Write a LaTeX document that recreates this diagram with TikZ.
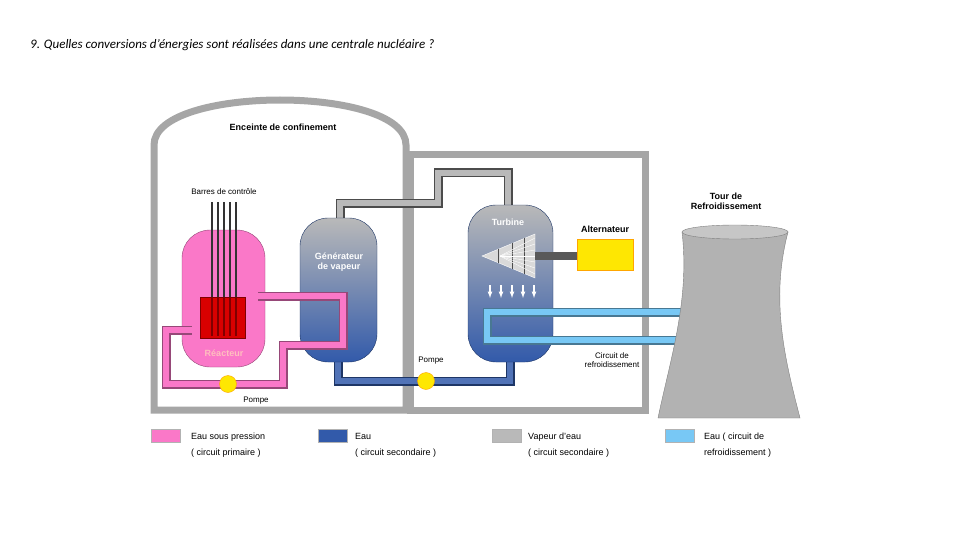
\documentclass[tikz,border=0pt]{standalone}
\usepackage{fontspec}
\setmainfont{Liberation Sans}
\newfontfamily\titlefont{Carlito}
\begin{document}
\begin{tikzpicture}[x=1pt,y=-1pt,
  lbl/.style={font=\fontsize{8}{9}\selectfont,inner sep=0pt},
  blbl/.style={font=\fontsize{9}{10}\selectfont\bfseries,inner sep=0pt,align=center},
  wlbl/.style={font=\fontsize{9}{10}\selectfont\bfseries,text=white,inner sep=0pt,align=center},
  wall/.style={draw=gray!70,line width=7pt},
  pipe/.style={line width=9pt,draw=#1!60!black},
  pipein/.style={line width=6pt,draw=#1},
  pump/.style={circle,fill=yellow!90!orange,draw=orange!70!yellow,minimum size=17pt,inner sep=0pt},
  swatch/.style={minimum width=29pt,minimum height=13pt,draw=gray!60,inner sep=0pt}]
\definecolor{pinkw}{RGB}{250,120,200}
\definecolor{bluew}{RGB}{50,90,170}
\definecolor{grayv}{RGB}{185,185,185}
\definecolor{lightb}{RGB}{120,200,245}
\useasboundingbox (0,0) rectangle (960,540);
% title
\node[anchor=west,inner sep=0pt,font=\titlefont\itshape\fontsize{13}{15}\selectfont] (title) at (30,45)
  {9. Quelles conversions d’énergies sont réalisées dans une centrale nucléaire ?};
% buildings
\draw[wall] (410,155) rectangle (645,410);
\draw[wall,fill=white] (154,410) -- (154,145) .. controls (154,85) and (406,85) .. (406,145) -- (406,410) -- cycle;
\draw[wall] (410,155) -- (645,155) -- (645,410) -- (410,410);
\node[blbl] (encl) at (283,127) {Enceinte de confinement};
% steam pipe
\draw[pipe=gray,line join=miter] (340,222) -- (340,203) -- (438,203) -- (438,173) -- (508,173) -- (508,208);
\draw[pipein=grayv,line join=miter] (340,222) -- (340,203) -- (438,203) -- (438,173) -- (508,173) -- (508,208);
% secondary water loop
\draw[pipe=bluew,line join=miter] (338,355) -- (338,381) -- (510,381) -- (510,355);
\draw[pipein=bluew!85!white,line join=miter] (338,355) -- (338,381) -- (510,381) -- (510,355);
% vessels
\shade[top color=grayv,bottom color=bluew,draw=bluew!60!black,rounded corners=28pt] (300,218) rectangle (377,362);
\shade[top color=grayv,bottom color=bluew,draw=bluew!60!black,rounded corners=28pt] (468,205) rectangle (553,362);
\node[wlbl] (sg) at (339,262) {Générateur\\de vapeur};
\node[wlbl] (turb) at (508,222) {Turbine};
\draw[fill=pinkw,draw=pinkw!60!black,rounded corners=28pt] (182,230) rectangle (265,367);
% rods
\foreach \x in {212,218,224,230,236}
  \draw[gray!40!black,line width=1.5pt] (\x,202) -- (\x,298);
\node[lbl] (rods) at (224,192) {Barres de contrôle};
\node[fill=red!85!black,draw=red!50!black,minimum width=45pt,minimum height=41pt,inner sep=0pt] (core) at (223,318) {};
\foreach \x in {212,218,224,230,236}
  \draw[red!50!black,line width=1.3pt] (\x,298) -- (\x,336);
\node[wlbl,text=pink] (reac) at (224,353) {Réacteur};
% primary loop
\draw[pipe=pinkw,line join=miter] (258,296) -- (343,296) -- (343,345) -- (283,345) -- (283,384) -- (166,384) -- (166,330) -- (192,330);
\draw[pipein=pinkw,line join=miter] (258,296) -- (343,296) -- (343,345) -- (283,345) -- (283,384) -- (166,384) -- (166,330) -- (192,330);
\node[pump] (p1) at (228,384) {};
\node[lbl] (p1l) at (256,401) {Pompe};
\node[pump] (p2) at (426,381) {};
\node[lbl] (p2l) at (431,361) {Pompe};
% turbine blades
\draw[white,fill=gray!30] (482,256) -- (535,234) -- (535,278) -- cycle;
\foreach \x in {498,512,524} \draw[gray!60!black] ({\x},{256-(\x-482)*0.42}) -- ({\x},{256+(\x-482)*0.42});
\foreach \y in {238,244,250,256,262,268,274} \draw[white] (500,256) -- (535,\y);
\foreach \x in {490,501,512,523,534} \draw[white,-latex,line width=1.2pt] (\x,285) -- (\x,298);
% alternator
\draw[gray!70!black,line width=8pt] (535,256) -- (578,256);
\node[fill=yellow!90!orange,draw=orange!70!yellow,minimum width=56pt,minimum height=31pt,inner sep=0pt] (alt) at (605,255) {};
\node[blbl] (altl) at (605,229) {Alternateur};
% cooling loop
\draw[pipe=lightb,line join=miter] (700,312) -- (487,312) -- (487,340) -- (700,340);
\draw[pipein=lightb,line join=miter] (700,312) -- (487,312) -- (487,340) -- (700,340);
% cooling tower
\fill[gray!60,draw=gray] (682,232) .. controls (690,300) and (670,360) .. (658,418) -- (800,418) .. controls (785,360) and (770,300) .. (788,232) -- cycle;
\fill[gray!45,draw=gray] (735,232) ellipse (53pt and 7pt);
\node[blbl] (tower) at (726,201) {Tour de\\Refroidissement};
\node[lbl,align=center] (cool) at (612,360) {Circuit de\\refroidissement};
% legend
\node[swatch,fill=pinkw] (s1) at (166,436) {};
\node[swatch,fill=bluew] (s2) at (333,436) {};
\node[swatch,fill=grayv] (s3) at (507,436) {};
\node[swatch,fill=lightb] (s4) at (680,436) {};
\node[lbl,anchor=west,align=left,font=\fontsize{9}{16}\selectfont] (l1) at (191,445) {Eau sous pression\\( circuit primaire )};
\node[lbl,anchor=west,align=left,font=\fontsize{9}{16}\selectfont] (l2) at (355,445) {Eau\\( circuit secondaire )};
\node[lbl,anchor=west,align=left,font=\fontsize{9}{16}\selectfont] (l3) at (528,445) {Vapeur d'eau\\( circuit secondaire )};
\node[lbl,anchor=west,align=left,font=\fontsize{9}{16}\selectfont] (l4) at (704,445) {Eau ( circuit de\\refroidissement )};
\end{tikzpicture}
\end{document}
